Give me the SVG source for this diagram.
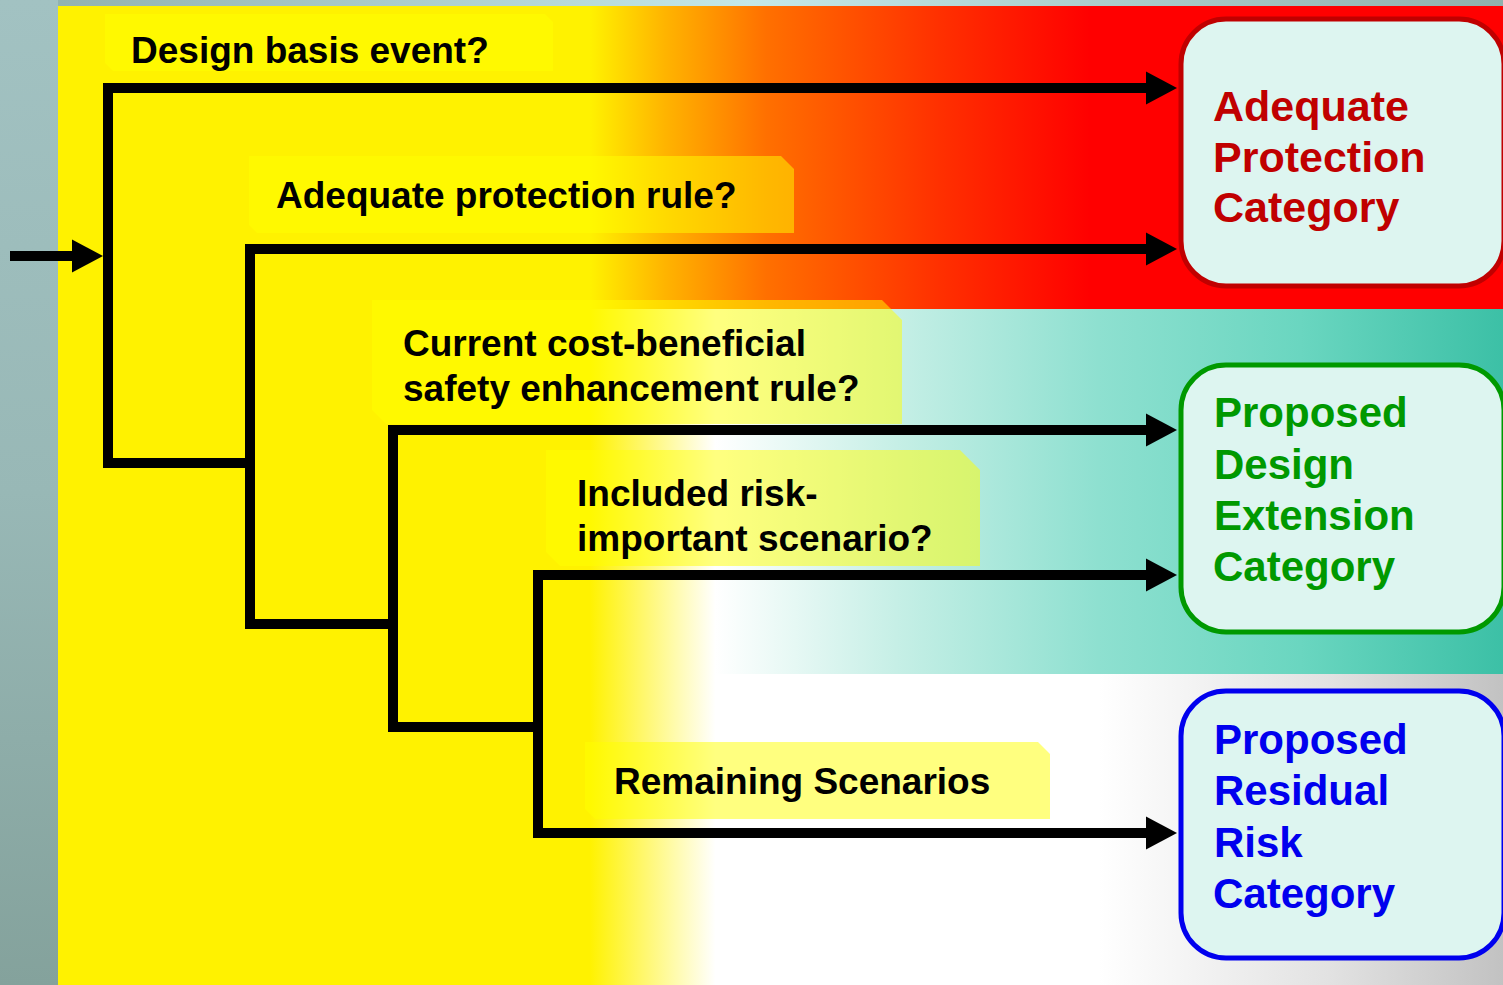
<svg xmlns="http://www.w3.org/2000/svg" width="1503" height="985" viewBox="0 0 1503 985">
  <defs>
    <linearGradient id="bgTop" x1="0" y1="0" x2="1503" y2="0" gradientUnits="userSpaceOnUse">
      <stop offset="0" stop-color="#8eaeaa"/>
      <stop offset="0.5" stop-color="#c4e8e8"/>
      <stop offset="1" stop-color="#90b0ac"/>
    </linearGradient>
    <linearGradient id="bgLeft" x1="0" y1="0" x2="0" y2="985" gradientUnits="userSpaceOnUse">
      <stop offset="0" stop-color="#a2c2c2"/>
      <stop offset="0.5" stop-color="#98b8b6"/>
      <stop offset="1" stop-color="#84a29c"/>
    </linearGradient>
    <linearGradient id="bandRed" x1="58" y1="0" x2="1503" y2="0" gradientUnits="userSpaceOnUse">
      <stop offset="0" stop-color="#fff200"/>
      <stop offset="0.368" stop-color="#fff200"/>
      <stop offset="0.42" stop-color="#ffb400"/>
      <stop offset="0.49" stop-color="#ff7000"/>
      <stop offset="0.61" stop-color="#ff3000"/>
      <stop offset="0.714" stop-color="#ff0000"/>
      <stop offset="1" stop-color="#ff0000"/>
    </linearGradient>
    <linearGradient id="bandTeal" x1="58" y1="0" x2="1503" y2="0" gradientUnits="userSpaceOnUse">
      <stop offset="0" stop-color="#fff200"/>
      <stop offset="0.368" stop-color="#fff200"/>
      <stop offset="0.455" stop-color="#ffffff"/>
      <stop offset="0.58" stop-color="#c6efe6"/>
      <stop offset="0.72" stop-color="#8ee0d0"/>
      <stop offset="0.86" stop-color="#6ad6c0"/>
      <stop offset="1" stop-color="#3cc0a6"/>
    </linearGradient>
    <linearGradient id="bandWhite" x1="58" y1="0" x2="1503" y2="0" gradientUnits="userSpaceOnUse">
      <stop offset="0" stop-color="#fff200"/>
      <stop offset="0.368" stop-color="#fff200"/>
      <stop offset="0.455" stop-color="#ffffff"/>
      <stop offset="0.72" stop-color="#ffffff"/>
      <stop offset="0.88" stop-color="#e2e2e2"/>
      <stop offset="1" stop-color="#c2c2c2"/>
    </linearGradient>
    <marker id="ah" markerUnits="userSpaceOnUse" markerWidth="32" markerHeight="33" refX="0" refY="16.5" orient="auto" overflow="visible">
      <path d="M0,0 L31,16.5 L0,33 Z" fill="#000"/>
    </marker>
    <style>
      .lbl { fill: #ffff00; fill-opacity: 0.5; }
      .lt { font-family: "Liberation Sans", Arial, sans-serif; font-weight: bold; font-size: 37px; fill: #000; }
      .cat { fill: #ddf5f0; stroke-width: 5; }
      .ct { font-family: "Liberation Sans", Arial, sans-serif; font-weight: bold; font-size: 42px; }
      .ct.red { font-size: 43px; }
      .conn path { fill: none; stroke: #000; stroke-width: 10; stroke-linejoin: miter; stroke-linecap: square; }
    </style>
  </defs>

  <!-- background -->
  <rect x="0" y="0" width="1503" height="985" fill="url(#bgTop)"/>
  <rect x="0" y="0" width="58" height="985" fill="url(#bgLeft)"/>
  <rect x="58" y="6" width="1445" height="303" fill="url(#bandRed)"/>
  <rect x="58" y="309" width="1445" height="365" fill="url(#bandTeal)"/>
  <rect x="58" y="674" width="1445" height="311" fill="url(#bandWhite)"/>

  <!-- question labels -->
  <g id="q-design-basis">
    <path class="lbl" d="M105,14 H545 L553,22 V71 H113 L105,63 Z"/>
    <text class="lt" x="131" y="63">Design basis event?</text>
  </g>
  <g id="q-adequate-protection">
    <path class="lbl" d="M249,156 H781 L794,169 V233 H257 L249,225 Z"/>
    <text class="lt" x="276" y="208">Adequate protection rule?</text>
  </g>
  <g id="q-cost-beneficial">
    <path class="lbl" d="M372,300 H882 L902,320 V424 H386 L372,410 Z"/>
    <text class="lt" x="403" y="356">Current cost-beneficial</text>
    <text class="lt" x="403" y="401">safety enhancement rule?</text>
  </g>
  <g id="q-risk-important">
    <path class="lbl" d="M546,450 H960 L980,470 V566 H560 L546,552 Z"/>
    <text class="lt" x="577" y="506">Included risk-</text>
    <text class="lt" x="577" y="551">important scenario?</text>
  </g>
  <g id="q-remaining">
    <path class="lbl" d="M585,742 H1038 L1050,754 V819 H595 L585,809 Z"/>
    <text class="lt" x="614" y="794">Remaining Scenarios</text>
  </g>

  <!-- connectors -->
  <g id="connectors" class="conn">
    <path d="M10,256 H72" style="stroke-linecap:butt" marker-end="url(#ah)"/>
    <path d="M250,463 H108 V88 H1146" marker-end="url(#ah)"/>
    <path d="M393,624 H250 V249 H1146" marker-end="url(#ah)"/>
    <path d="M538,727 H393 V430 H1146" marker-end="url(#ah)"/>
    <path d="M538,833 V575 H1146" marker-end="url(#ah)"/>
    <path d="M538,575 V833 H1146" marker-end="url(#ah)"/>
  </g>

  <!-- category nodes -->
  <g id="adequate-protection-category">
    <rect class="cat" x="1181" y="19" width="323" height="267" rx="45" ry="45" stroke="#c00000"/>
    <text class="ct red" fill="#c00000" x="1213" y="121">Adequate</text>
    <text class="ct red" fill="#c00000" x="1213" y="172">Protection</text>
    <text class="ct red" fill="#c00000" x="1213" y="222">Category</text>
  </g>
  <g id="proposed-design-extension-category">
    <rect class="cat" x="1181" y="365" width="323" height="267" rx="45" ry="45" stroke="#009900"/>
    <text class="ct" fill="#009900" x="1214" y="427">Proposed</text>
    <text class="ct" fill="#009900" x="1214" y="479">Design</text>
    <text class="ct" fill="#009900" x="1214" y="530">Extension</text>
    <text class="ct" fill="#009900" x="1213" y="581">Category</text>
  </g>
  <g id="proposed-residual-risk-category">
    <rect class="cat" x="1181" y="691" width="323" height="267" rx="45" ry="45" stroke="#0000ee"/>
    <text class="ct" fill="#0000ee" x="1214" y="754">Proposed</text>
    <text class="ct" fill="#0000ee" x="1214" y="805">Residual</text>
    <text class="ct" fill="#0000ee" x="1214" y="857">Risk</text>
    <text class="ct" fill="#0000ee" x="1213" y="908">Category</text>
  </g>
</svg>
